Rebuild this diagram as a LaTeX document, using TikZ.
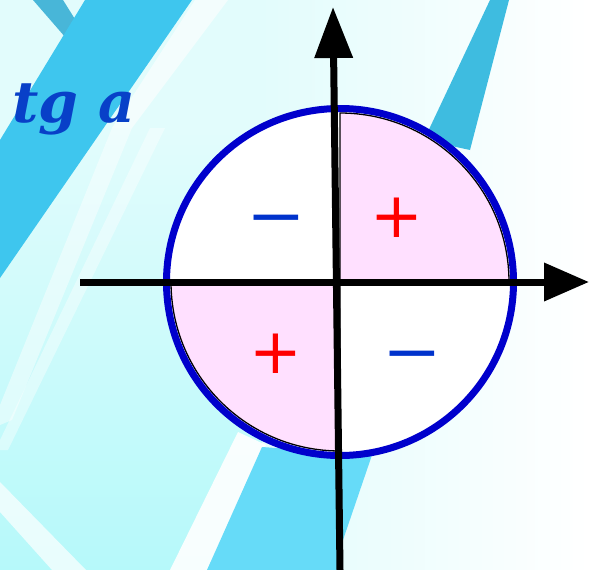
\documentclass[tikz,border=0pt]{standalone}
\usepackage{fontspec}
\usetikzlibrary{arrows.meta}
\newfontfamily\tgfont{DejaVu Serif}
\newfontfamily\signfont{DejaVu Sans}
\definecolor{bgcyan}{HTML}{E2FCFC}
\definecolor{paleCyan}{HTML}{B6F9FA}
\definecolor{stripeBig}{HTML}{3EC6EE}
\definecolor{stripeSmall}{HTML}{48B6D8}
\definecolor{stripeTR}{HTML}{3EBCE0}
\definecolor{bandBottom}{HTML}{66DBF8}
\definecolor{circBlue}{HTML}{0000CC}
\definecolor{pinkQ}{HTML}{FFE0FF}
\definecolor{signBlue}{HTML}{0033CC}
\definecolor{signRed}{HTML}{FF0000}
\definecolor{titleBlue}{HTML}{0840C8}
\tikzset{
  axisline/.style={line width=7pt, black},
  quad/.style={fill=pinkQ, draw=black, line width=1.3pt},
  ring/.style={draw=circBlue, line width=7pt},
  streak/.style={fill=white, opacity=#1},
  plussign/.style={text=signRed, font=\signfont\fontsize{63}{63}\selectfont, inner sep=0pt, anchor=base},
  minussign/.style={text=signBlue, font=\signfont\fontsize{63}{63}\selectfont, inner sep=0pt, anchor=base, xscale=1.13, transform shape},
  titletext/.style={text=titleBlue, font=\tgfont\bfseries\itshape\fontsize{57}{57}\selectfont, inner sep=0pt, anchor=base west}
}
\begin{document}
\begin{tikzpicture}[x=1pt,y=-1pt]
\useasboundingbox (0,0) rectangle (589,570);
% background
\fill[bgcyan] (0,0) rectangle (261,570);
\shade[left color=bgcyan, right color=white] (260,0) rectangle (589,570);
\shade[top color=bgcyan, bottom color=paleCyan] (0,130) -- (256,130) -- (262,445) -- (207,570) -- (0,570) -- cycle;
\fill[streak=0.7] (0,482) -- (0,512) -- (52,570) -- (86,570) -- cycle;
\fill[streak=0.9] (238,432) -- (266,445) -- (207,570) -- (170,570) -- cycle;
\fill[streak=0.45] (112,128) -- (132,128) -- (12,420) -- (0,425) -- (0,405) -- cycle;
\fill[streak=0.4] (150,128) -- (165,128) -- (8,450) -- (0,450) -- (0,440) -- cycle;
\fill[streak=0.6] (195,0) -- (228,0) -- (132,128) -- (112,128) -- cycle;
\fill[stripeSmall] (33,0) -- (63,0) -- (83,32) -- (72,45) -- cycle;
\fill[stripeBig] (85,0) -- (192,0) -- (0,278) -- (0,140) -- cycle;
\fill[stripeTR] (490,0) -- (509,0) -- (470,150) -- (424,140) -- cycle;
\fill[bandBottom] (262,447) -- (372,455) -- (343,540) -- (341,570) -- (207,570) -- cycle;
% circle
\coordinate (C) at (340,282);
\fill[white] (C) circle[radius=173.5];
\filldraw[quad] (C) -- ++(169,0) arc[start angle=0, end angle=-90, radius=169] -- cycle;
\filldraw[quad] (C) -- ++(-169,0) arc[start angle=180, end angle=90, radius=169] -- cycle;
\draw[ring] (C) circle[radius=173.5];
% axes
\coordinate (hl) at (80,282);
\coordinate (hr) at (589,282);
\coordinate (vb) at (340,570);
\coordinate (vt) at (333,7);
\draw[axisline, -{Triangle[length=45pt,width=37pt]}] (hl) -- (hr);
\draw[axisline, -{Triangle[length=51pt,width=37pt]}] (vb) -- (vt);
% signs
\node[minussign] (m1) at (276,237) {−};
\node[plussign] (p1) at (397,237) {+};
\node[plussign] (p2) at (276,373) {+};
\node[minussign] (m2) at (412,373) {−};
% title
\node[titletext] (title) at (12,122) {tg a};
\end{tikzpicture}
\end{document}
